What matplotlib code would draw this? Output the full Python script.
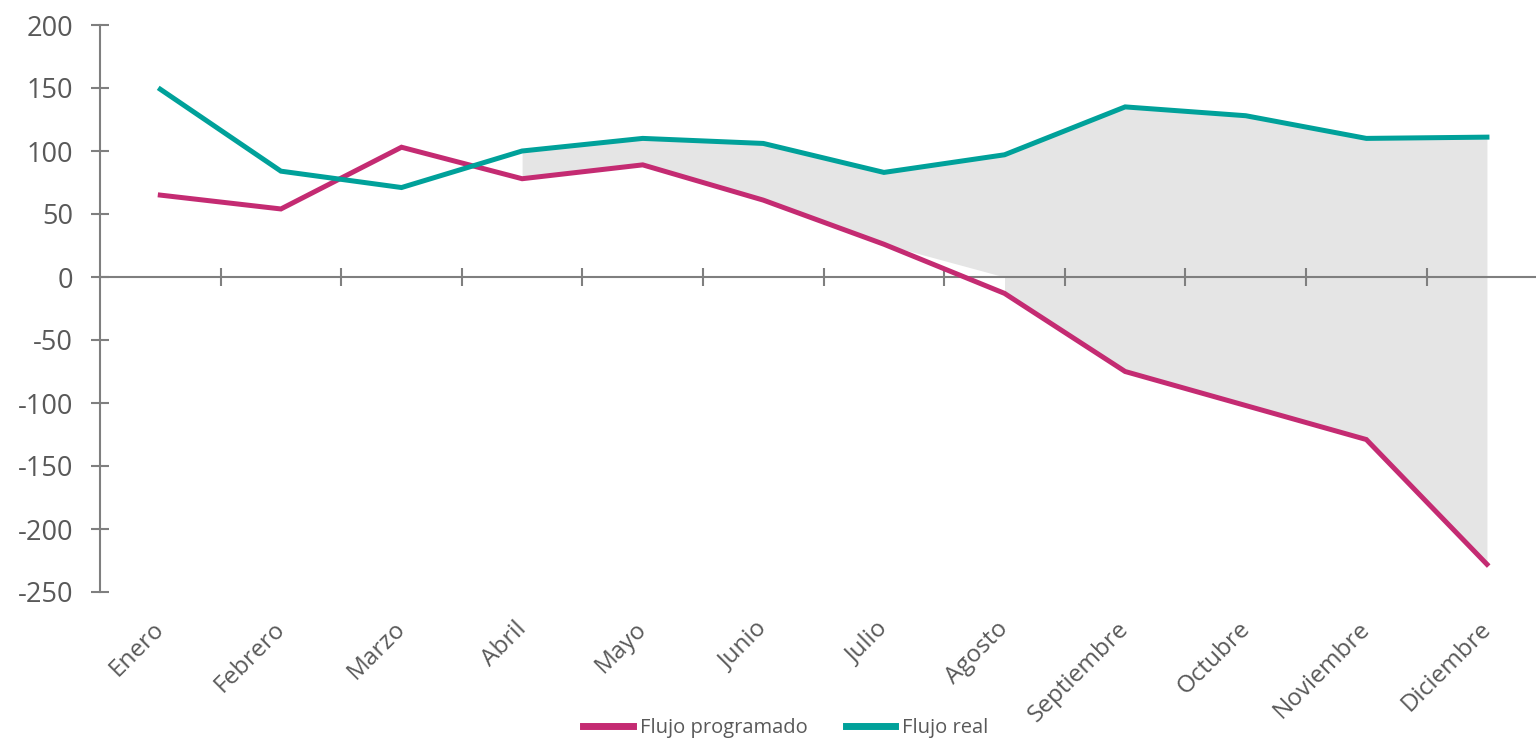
import numpy as np
import matplotlib
matplotlib.use('Agg')
from matplotlib import pyplot as plt
from matplotlib.transforms import ScaledTranslation

plt.rcParams['font.family'] = ['Open Sans', 'DejaVu Sans']
plt.rcParams['axes.unicode_minus'] = False

meses = ['Enero', 'Febrero', 'Marzo', 'Abril', 'Mayo', 'Junio', 'Julio',
         'Agosto', 'Septiembre', 'Octubre', 'Noviembre', 'Diciembre']
flujo_programado = [65, 54, 103, 78, 89, 61, 26, -13, -75, -102, -129, -228]
flujo_real = [149, 84, 71, 100, 110, 106, 83, 97, 135, 128, 110, 111]

col_prog = '#C42B72'
col_real = '#00A19A'
col_gris = '#E5E5E5'
col_eje = '#7F7F7F'
col_txt = '#595959'

x = np.arange(len(meses))
prog = np.array(flujo_programado, dtype=float)
real = np.array(flujo_real, dtype=float)

fig = plt.figure(figsize=(15.36, 7.41), dpi=100)
ax = fig.add_axes([100/1536, 1-592/741, 1-100/1536, (592-25)/741])

# zona gris: diferencia desde abril
i0 = 3
piso = np.maximum(prog, 0)
piso[7:] = 0
ax.fill_between(x[i0:], piso[i0:], real[i0:], color=col_gris, lw=0, zorder=1)
ax.fill_between(x[7:], prog[7:], 0, color=col_gris, lw=0, zorder=1)

ax.plot(x, prog, color=col_prog, lw=3.6, solid_joinstyle='miter', zorder=3, label='Flujo programado')
ax.plot(x, real, color=col_real, lw=3.6, solid_joinstyle='miter', zorder=3, label='Flujo real')

ax.set_xlim(-0.5, (1536-162)/((1487-162)/11))
ax.set_ylim(-250, 200)

for s in ['top', 'right']:
    ax.spines[s].set_visible(False)
ax.spines['left'].set_color(col_eje)
ax.spines['left'].set_linewidth(1.5)
ax.spines['bottom'].set_position(('data', 0))
ax.spines['bottom'].set_color(col_eje)
ax.spines['bottom'].set_linewidth(1.5)

ax.set_yticks(np.arange(-250, 201, 50))
ax.tick_params(axis='y', direction='inout', length=13, width=1.5, color=col_eje,
               labelsize=19.5, labelcolor=col_txt, pad=13)

ax.set_xticks(x[:-1] + 0.5)
ax.set_xticklabels([])
ax.tick_params(axis='x', direction='inout', length=13, width=1.5, color=col_eje)

ax2 = ax.secondary_xaxis('bottom')
ax2.set_xticks(x)
ax2.set_xticklabels(meses, rotation=45, ha='right', va='top', rotation_mode='anchor')
ax2.tick_params(axis='x', length=0, labelsize=17.5, labelcolor=col_txt, pad=18)
ax2.spines['bottom'].set_visible(False)
desp = ScaledTranslation(-8/100, 0, fig.dpi_scale_trans)
for lab in ax2.get_xticklabels():
    lab.set_transform(lab.get_transform() + desp)

leg = fig.legend(loc='center', bbox_to_anchor=(786/1536, 1-728/741), ncol=2, frameon=False,
                 fontsize=14.5, handlelength=2.45, handletextpad=0.35, columnspacing=1.9)
for t in leg.get_texts():
    t.set_color(col_txt)
for h in leg.get_lines():
    h.set_linewidth(5)

fig.savefig('out.png', dpi=100)
